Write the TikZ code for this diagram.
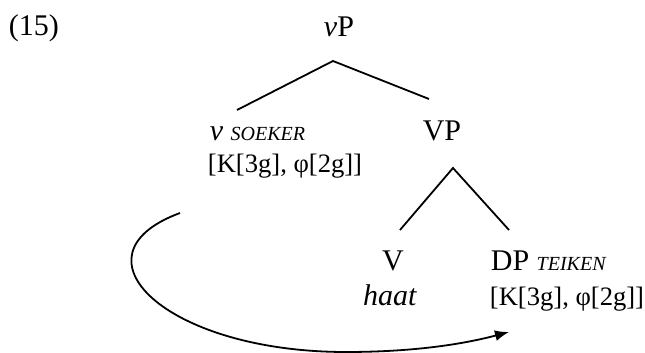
\documentclass[tikz,border=0pt]{standalone}
\usepackage{fontspec}
\setmainfont{Liberation Serif}
\usepackage{tikz}
\usetikzlibrary{arrows.meta}

\begin{document}
\begin{tikzpicture}[x=0.5pt,y=-0.5pt,line width=0.9pt,
  every node/.style={anchor=base,inner sep=0pt,font=\fontsize{15}{17}\selectfont}]
\useasboundingbox (0,0) rectangle (645,353);
\node[anchor=base west] (ex) at (8,36) {(15)};
\node (vP) at (339,37) {\textit{v}P};
\node[anchor=base west] (soeker) at (209,141) {\textit{v}~{\fontsize{10}{11}\selectfont\textit{SOEKER}}};
\node[anchor=base west,font=\fontsize{13.3}{15}\selectfont] (soekerf) at (207,173) {[K[3g], φ[2g]]};
\node (VP) at (442,141) {VP};
\node (V) at (393,271) {V};
\node (haat) at (390,306) {\textit{haat}};
\node[anchor=base west] (DP) at (490,271) {DP~{\fontsize{10}{11}\selectfont\textit{TEIKEN}}};
\node[anchor=base west,font=\fontsize{13.3}{15}\selectfont] (DPf) at (489,306) {[K[3g], φ[2g]]};
% branches
\coordinate (vPtop) at (333,61);
\coordinate (VPtop) at (453,168);
\draw (237,110) -- (vPtop) -- (429,99);
\draw (400,230) -- (VPtop) -- (509,230);
% agree
\coordinate (start) at (180,213);
\coordinate (goal) at (509,332);
\draw[-{Latex[length=7pt,width=5.5pt]}] (start) .. controls (66,255) and (165,352) .. (346,352)
  .. controls (410,352) and (460,345) .. (goal);
\end{tikzpicture}
\end{document}
